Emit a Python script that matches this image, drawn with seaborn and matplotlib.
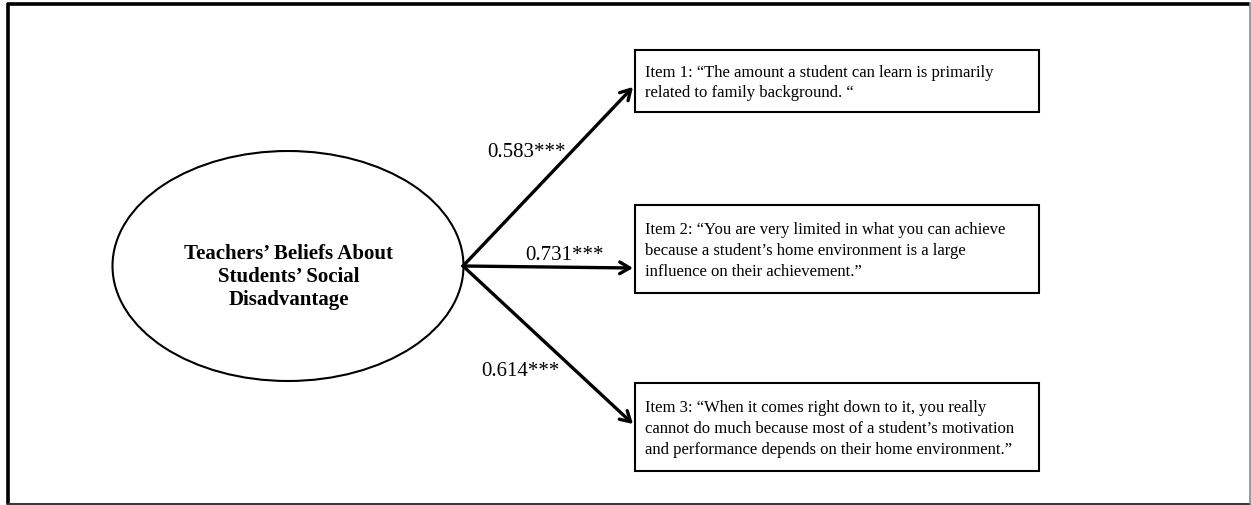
import matplotlib
matplotlib.use("Agg")
import matplotlib.pyplot as plt
from matplotlib.patches import Ellipse, Rectangle
import seaborn as sns

# data
latent_label = "Teachers’ Beliefs About\nStudents’ Social\nDisadvantage"
item_labels = [
    "Item 1: “The amount a student can learn is primarily\nrelated to family background. “",
    "Item 2: “You are very limited in what you can achieve\nbecause a student’s home environment is a large\ninfluence on their achievement.”",
    "Item 3: “When it comes right down to it, you really\ncannot do much because most of a student’s motivation\nand performance depends on their home environment.”",
]
loadings = [0.583, 0.731, 0.614]
stars = ["***", "***", "***"]

# layout (pixel space of the 1251x506 picture)
box_tops = [51, 206, 384]
box_bottoms = [113, 294, 472]
arrow_tips_y = [88, 269, 425]
label_xy = [(527, 152), (564, 255), (520, 371)]

sns.set_theme(style="white")
plt.rcParams["font.family"] = ["Liberation Serif", "DejaVu Serif"]
plt.rcParams["text.color"] = "black"

fig = plt.figure(figsize=(12.51, 5.06), dpi=100)
ax = fig.add_axes([0, 0, 1, 1])
ax.set_xlim(0, 1251)
ax.set_ylim(506, 0)
ax.axis("off")

# outer frame
ax.plot([8, 8], [4, 505], color="black", lw=2.6, solid_capstyle="butt")
ax.plot([7, 1250], [5, 5], color="black", lw=2.6, solid_capstyle="butt")
ax.plot([7, 1250], [504.5, 504.5], color="#333333", lw=1.4)
ax.plot([1249.5, 1249.5], [4, 505], color="#888888", lw=1.2)

# latent variable
cx, cy = 288, 267
ax.add_patch(Ellipse((cx, cy), 351, 230, fill=False, ec="black", lw=1.5))
ax.text(cx + 1, cy + 10, latent_label, ha="center", va="center",
        fontsize=15, fontweight="bold", linespacing=1.2)

# item boxes, arrows, loadings
box_left, box_right = 635, 1039
start = (463, 267)
for i, text in enumerate(item_labels):
    top, bot = box_tops[i], box_bottoms[i]
    ax.add_patch(Rectangle((box_left, top), box_right - box_left, bot - top,
                           fill=False, ec="black", lw=1.5))
    ax.text(box_left + 10, (top + bot) / 2 + 1, text, ha="left", va="center",
            fontsize=12, linespacing=1.38)
    ax.annotate("", xy=(box_left - 2, arrow_tips_y[i]), xytext=start,
                arrowprops=dict(arrowstyle="->,head_length=0.6,head_width=0.35",
                                lw=2.4, color="black", shrinkA=0, shrinkB=0))
    lx, ly = label_xy[i]
    ax.text(lx, ly, f"{loadings[i]:.3f}{stars[i]}", ha="center", va="center",
            fontsize=15)

fig.savefig("out.png", dpi=100, facecolor="white")
